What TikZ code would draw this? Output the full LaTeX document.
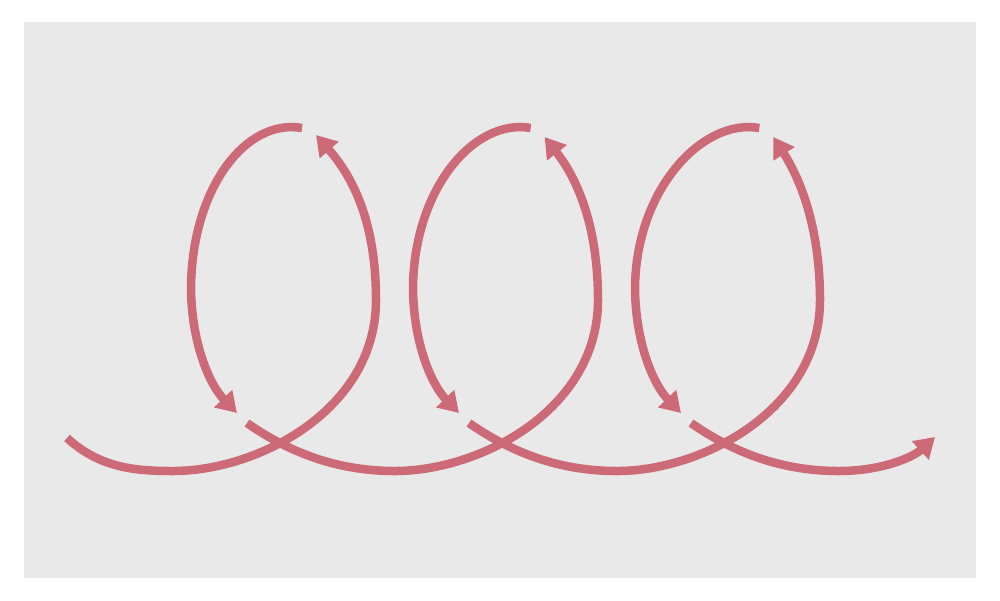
\documentclass[tikz,border=0pt]{standalone}
\usetikzlibrary{arrows.meta}
\definecolor{loopred}{RGB}{205,106,120}
\definecolor{bggray}{RGB}{233,233,233}
\begin{document}
\begin{tikzpicture}[x=0.02cm,y=-0.02cm,
	curl/.style={draw=loopred,line width=0.17cm,-{Triangle[length=0.4cm,width=0.48cm]}}]
	\useasboundingbox (0,0) rectangle (1000,600);
	\fill[bggray] (24,22) rectangle (976,578);
	% tail into the first loop
	\draw[curl] (67,438) .. controls (100,468) and (135,471) .. (173,471)
		.. controls (258,471) and (376,410) .. (376,300)
		.. controls (376,235) and (360,185) .. (316,135);
	% top and left side of each loop
	\foreach \o in {0,222,444} {
		\pgfmathsetmacro\t{1.03*\o}
		\draw[curl] (302+\t,128) .. controls (245+\t,118) and (191+\o,190) .. (191+\o,290)
			.. controls (192+\o,345) and (210+\o,385) .. (237+\o,413);
	}
	% from one loop under into the next
	\foreach \o in {0,222} {
		\pgfmathsetmacro\n{1.03*(\o+222)}
		\draw[curl] (247+\o,423) .. controls (300+\o,460) and (350+\o,471) .. (395+\o,471)
			.. controls (480+\o,471) and (598+\o,410) .. (598+\o,300)
			.. controls (598+\o,235) and (582+\o,185) .. (316+\n,137);
	}
	% last tail out
	\draw[curl] (691,423) .. controls (744,460) and (794,471) .. (839,471)
		.. controls (880,471) and (912,458) .. (935,437);
\end{tikzpicture}
\end{document}
